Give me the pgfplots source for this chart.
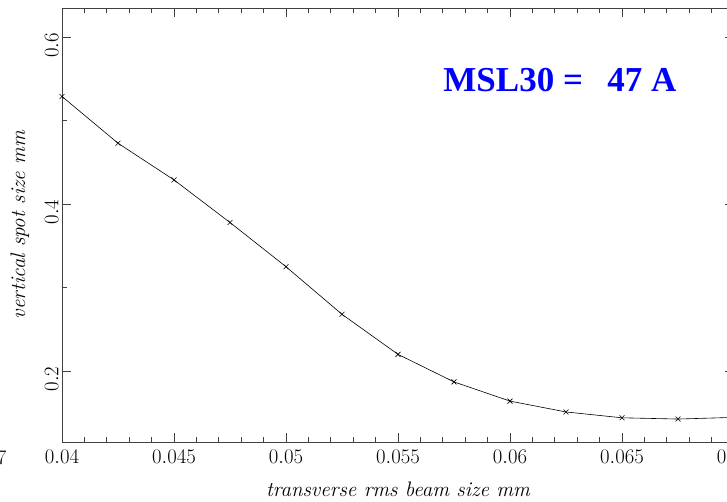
\documentclass[border=0pt]{standalone}
\usepackage{pgfplots}
\pgfplotsset{compat=1.18}
\usepackage{fontspec}
\newfontfamily\tnr{Liberation Serif}
\definecolor{mslblue}{RGB}{0,0,255}
\begin{document}
\begin{tikzpicture}
\clip (-62pt,-60pt) rectangle (665pt,442pt);
\begin{axis}[
  at={(0,0)}, anchor=south west,
  scale only axis,
  width=672pt, height=434pt,
  xmin=0.04, xmax=0.07,
  ymin=0.115, ymax=0.635,
  xtick={0.04,0.045,0.05,0.055,0.06,0.065,0.07},
  ytick={0.2,0.4,0.6},
  minor x tick num=4,
  minor y tick num=1,
  scaled x ticks=false,
  scaled y ticks=false,
  xticklabel style={/pgf/number format/fixed,/pgf/number format/precision=3,yshift=-5pt},
  yticklabel style={/pgf/number format/fixed,rotate=90,anchor=south,xshift=-8pt},
  tick label style={font=\fontsize{20}{23}\selectfont},
  tick align=inside,
  major tick length=9pt,
  minor tick length=5pt,
  axis line style={black!75, line width=0.8pt},
  tick style={black!75, line width=0.8pt},
  xlabel={transverse rms beam size mm},
  ylabel={vertical spot size mm},
  every axis x label/.style={at={(rel axis cs:0.5,0)}, anchor=center, yshift=-47pt, font=\fontsize{21}{24}\selectfont\itshape},
  every axis y label/.style={at={(rel axis cs:0,0.5)}, anchor=center, rotate=90, yshift=42pt, font=\fontsize{21}{24}\selectfont\itshape},
  clip=false
]
\addplot[black, line width=0.6pt, mark=x, mark size=3.5pt, mark options={line width=0.6pt}] coordinates {
(0.04,0.529)
(0.0425,0.473)
(0.045,0.429)
(0.0475,0.378)
(0.05,0.325)
(0.0525,0.268)
(0.055,0.220)
(0.0575,0.187)
(0.06,0.164)
(0.0625,0.151)
(0.065,0.144)
(0.0675,0.1425)
(0.07,0.1445)
};
\node[font=\tnr\bfseries\fontsize{35}{38}\selectfont, text=mslblue] at (rel axis cs:0.741,0.834) {MSL30 =\hspace{0.7em}47 A};
\end{axis}
\node[anchor=base east, font=\fontsize{20}{23}\selectfont] at (-52pt,-23pt) {$0.07$};
\end{tikzpicture}
\end{document}
